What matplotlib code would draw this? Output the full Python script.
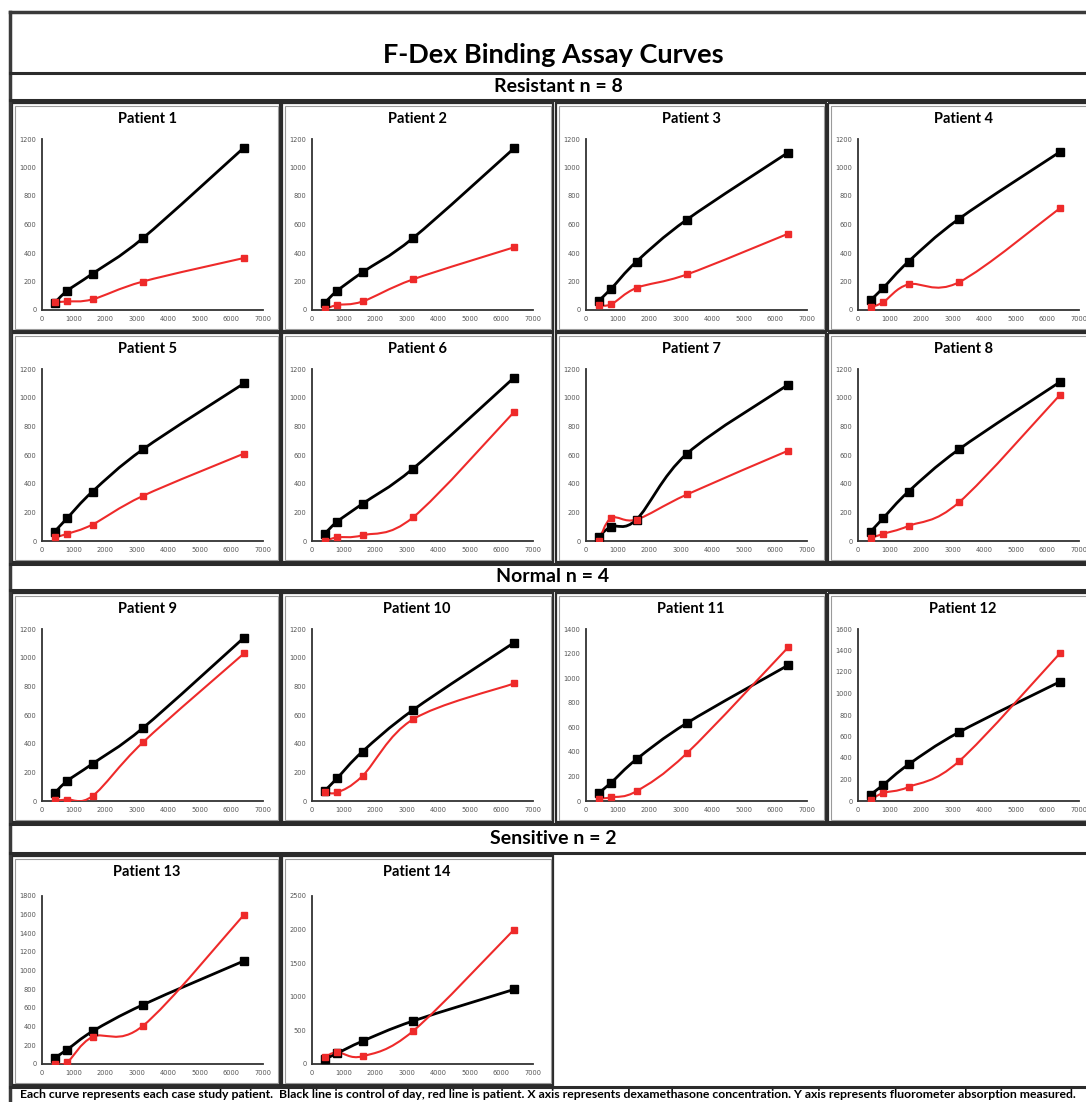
import numpy as np
import matplotlib.pyplot as plt
from matplotlib.path import Path
from matplotlib.patches import PathPatch, Rectangle

# dexamethasone concentration (x) shared by all patients
conc = [400, 800, 1600, 3200, 6400]

# control of day (black) and patient (red) readings, per patient
control = {
    1: [50, 135, 255, 505, 1140],
    2: [50, 135, 265, 505, 1135],
    3: [65, 150, 340, 635, 1105],
    4: [70, 155, 340, 640, 1110],
    5: [65, 160, 345, 640, 1100],
    6: [50, 135, 260, 505, 1140],
    7: [30, 100, 150, 610, 1090],
    8: [65, 160, 345, 640, 1110],
    9: [55, 140, 260, 510, 1140],
    10: [70, 160, 345, 635, 1105],
    11: [65, 150, 340, 635, 1105],
    12: [60, 150, 340, 640, 1110],
    13: [65, 155, 350, 635, 1105],
    14: [70, 160, 340, 640, 1110],
}
patient = {
    1: [55, 60, 75, 200, 365],
    2: [5, 35, 60, 215, 440],
    3: [35, 40, 155, 250, 535],
    4: [20, 55, 180, 195, 715],
    5: [25, 50, 115, 315, 610],
    6: [0, 25, 40, 165, 900],
    7: [0, 160, 150, 325, 630],
    8: [20, 50, 105, 270, 1020],
    9: [5, 10, 35, 410, 1030],
    10: [65, 60, 175, 570, 820],
    11: [20, 30, 80, 390, 1250],
    12: [10, 75, 130, 370, 1375],
    13: [0, 20, 290, 410, 1600],
    14: [100, 175, 115, 490, 2000],
}
y_max = {1: 1200, 2: 1200, 3: 1200, 4: 1200, 5: 1200, 6: 1200, 7: 1200, 8: 1200,
         9: 1200, 10: 1200, 11: 1400, 12: 1600, 13: 1800, 14: 2500}
y_step = {14: 500}

sections = ["Resistant n = 8", "Normal n = 4", "Sensitive n = 2"]
title = "F-Dex Binding Assay Curves"
caption = ("Each curve represents each case study patient.  Black line is control of day, red line is patient. "
           "X axis represents dexamethasone concentration. Y axis represents fluorometer absorption measured.")

W, H = 1086, 1102
RED = "#ee2a2a"
FONT = ["Lato", "DejaVu Sans"]

fig = plt.figure(figsize=(W / 100, H / 100), dpi=100)
bg = fig.add_axes([0, 0, 1, 1], zorder=0)
bg.set_xlim(0, W)
bg.set_ylim(H, 0)
bg.axis("off")


def smooth(ax, x, y, color, lw):
    # Excel-style smoothed line: cubic Bezier through every point
    pts = np.column_stack([x, y]).astype(float)
    ext = np.vstack([pts[0], pts, pts[-1]])
    verts = [pts[0]]
    codes = [Path.MOVETO]
    for i in range(len(pts) - 1):
        p0, p1, p2, p3 = ext[i], ext[i + 1], ext[i + 2], ext[i + 3]
        verts += [p1 + (p2 - p0) / 6, p2 - (p3 - p1) / 6, p2]
        codes += [Path.CURVE4] * 3
    ax.add_patch(PathPatch(Path(verts, codes), fill=False, edgecolor=color,
                           lw=lw, capstyle="round", joinstyle="round", zorder=3))


def frame(x0, y0, x1, y1):
    bg.add_patch(Rectangle((x0, y0), x1 - x0, y1 - y0, fill=False, ec="#2b2b2b", lw=1.6))
    bg.add_patch(Rectangle((x0 + 2.5, y0 + 2.5), x1 - x0 - 5, y1 - y0 - 5, fill=False, ec="#9a9a9a", lw=0.8))


# outer frame, title and section bands
bg.plot([10, W + 5], [12, 12], color="#3a3a3a", lw=2.5)
bg.plot([10, 10], [12, H], color="#3a3a3a", lw=2.5)
bg.text(553, 55, title, ha="center", va="center", fontsize=19.5, fontweight="bold", family=FONT)
for yl in [73, 100, 564, 590, 824, 853, 1087]:
    bg.plot([10, W + 5], [yl, yl], color="#2b2b2b", lw=2.2)
bg.text(558, 87, sections[0], ha="center", va="center", fontsize=14, fontweight="bold", family=FONT)
bg.text(553, 577, sections[1], ha="center", va="center", fontsize=14, fontweight="bold", family=FONT)
bg.text(553, 839, sections[2], ha="center", va="center", fontsize=14, fontweight="bold", family=FONT)
bg.text(548, 1095, caption, ha="center", va="center", fontsize=8.8, fontweight="bold", family=FONT)

cols = [(12, 280), (282, 553), (556, 826), (828, 1090)]
rows = [(103, 331), (333, 562), (593, 822), (856, 1085)]

for n in range(1, 15):
    r, c = divmod(n - 1, 4)
    if n >= 13:
        r, c = 3, n - 13
    x0, x1 = cols[c]
    y0, y1 = rows[r]
    frame(x0, y0, x1, y1)
    bg.text(x0 + 135, y0 + 16, f"Patient {n}", ha="center", va="center",
            fontsize=10.5, fontweight="bold", family=FONT)

    top = 36 if n < 13 else 40
    ax_l, ax_r, ax_t, ax_b = x0 + 30, x0 + 251, y0 + top, y1 - 21
    ax = fig.add_axes([ax_l / W, 1 - ax_b / H, (ax_r - ax_l) / W, (ax_b - ax_t) / H], zorder=1)
    ax.patch.set_alpha(0)
    smooth(ax, conc, control[n], "black", 2.0)
    smooth(ax, conc, patient[n], RED, 1.5)
    ax.plot(conc, control[n], "s", color="black", ms=6, zorder=4)
    ax.plot(conc, patient[n], "s", color=RED, ms=4.5, zorder=5)
    ax.set_xlim(0, 7000)
    ax.set_ylim(0, y_max[n])
    ax.set_xticks(range(0, 7001, 1000))
    ax.set_yticks(range(0, y_max[n] + 1, y_step.get(n, 200)))
    ax.tick_params(length=0, labelsize=4.8, labelcolor="#555555", pad=4)
    for s in ["top", "right"]:
        ax.spines[s].set_visible(False)
    for s in ["left", "bottom"]:
        ax.spines[s].set_color("#333333")
        ax.spines[s].set_linewidth(1.3)

fig.savefig("out.png", dpi=100)
